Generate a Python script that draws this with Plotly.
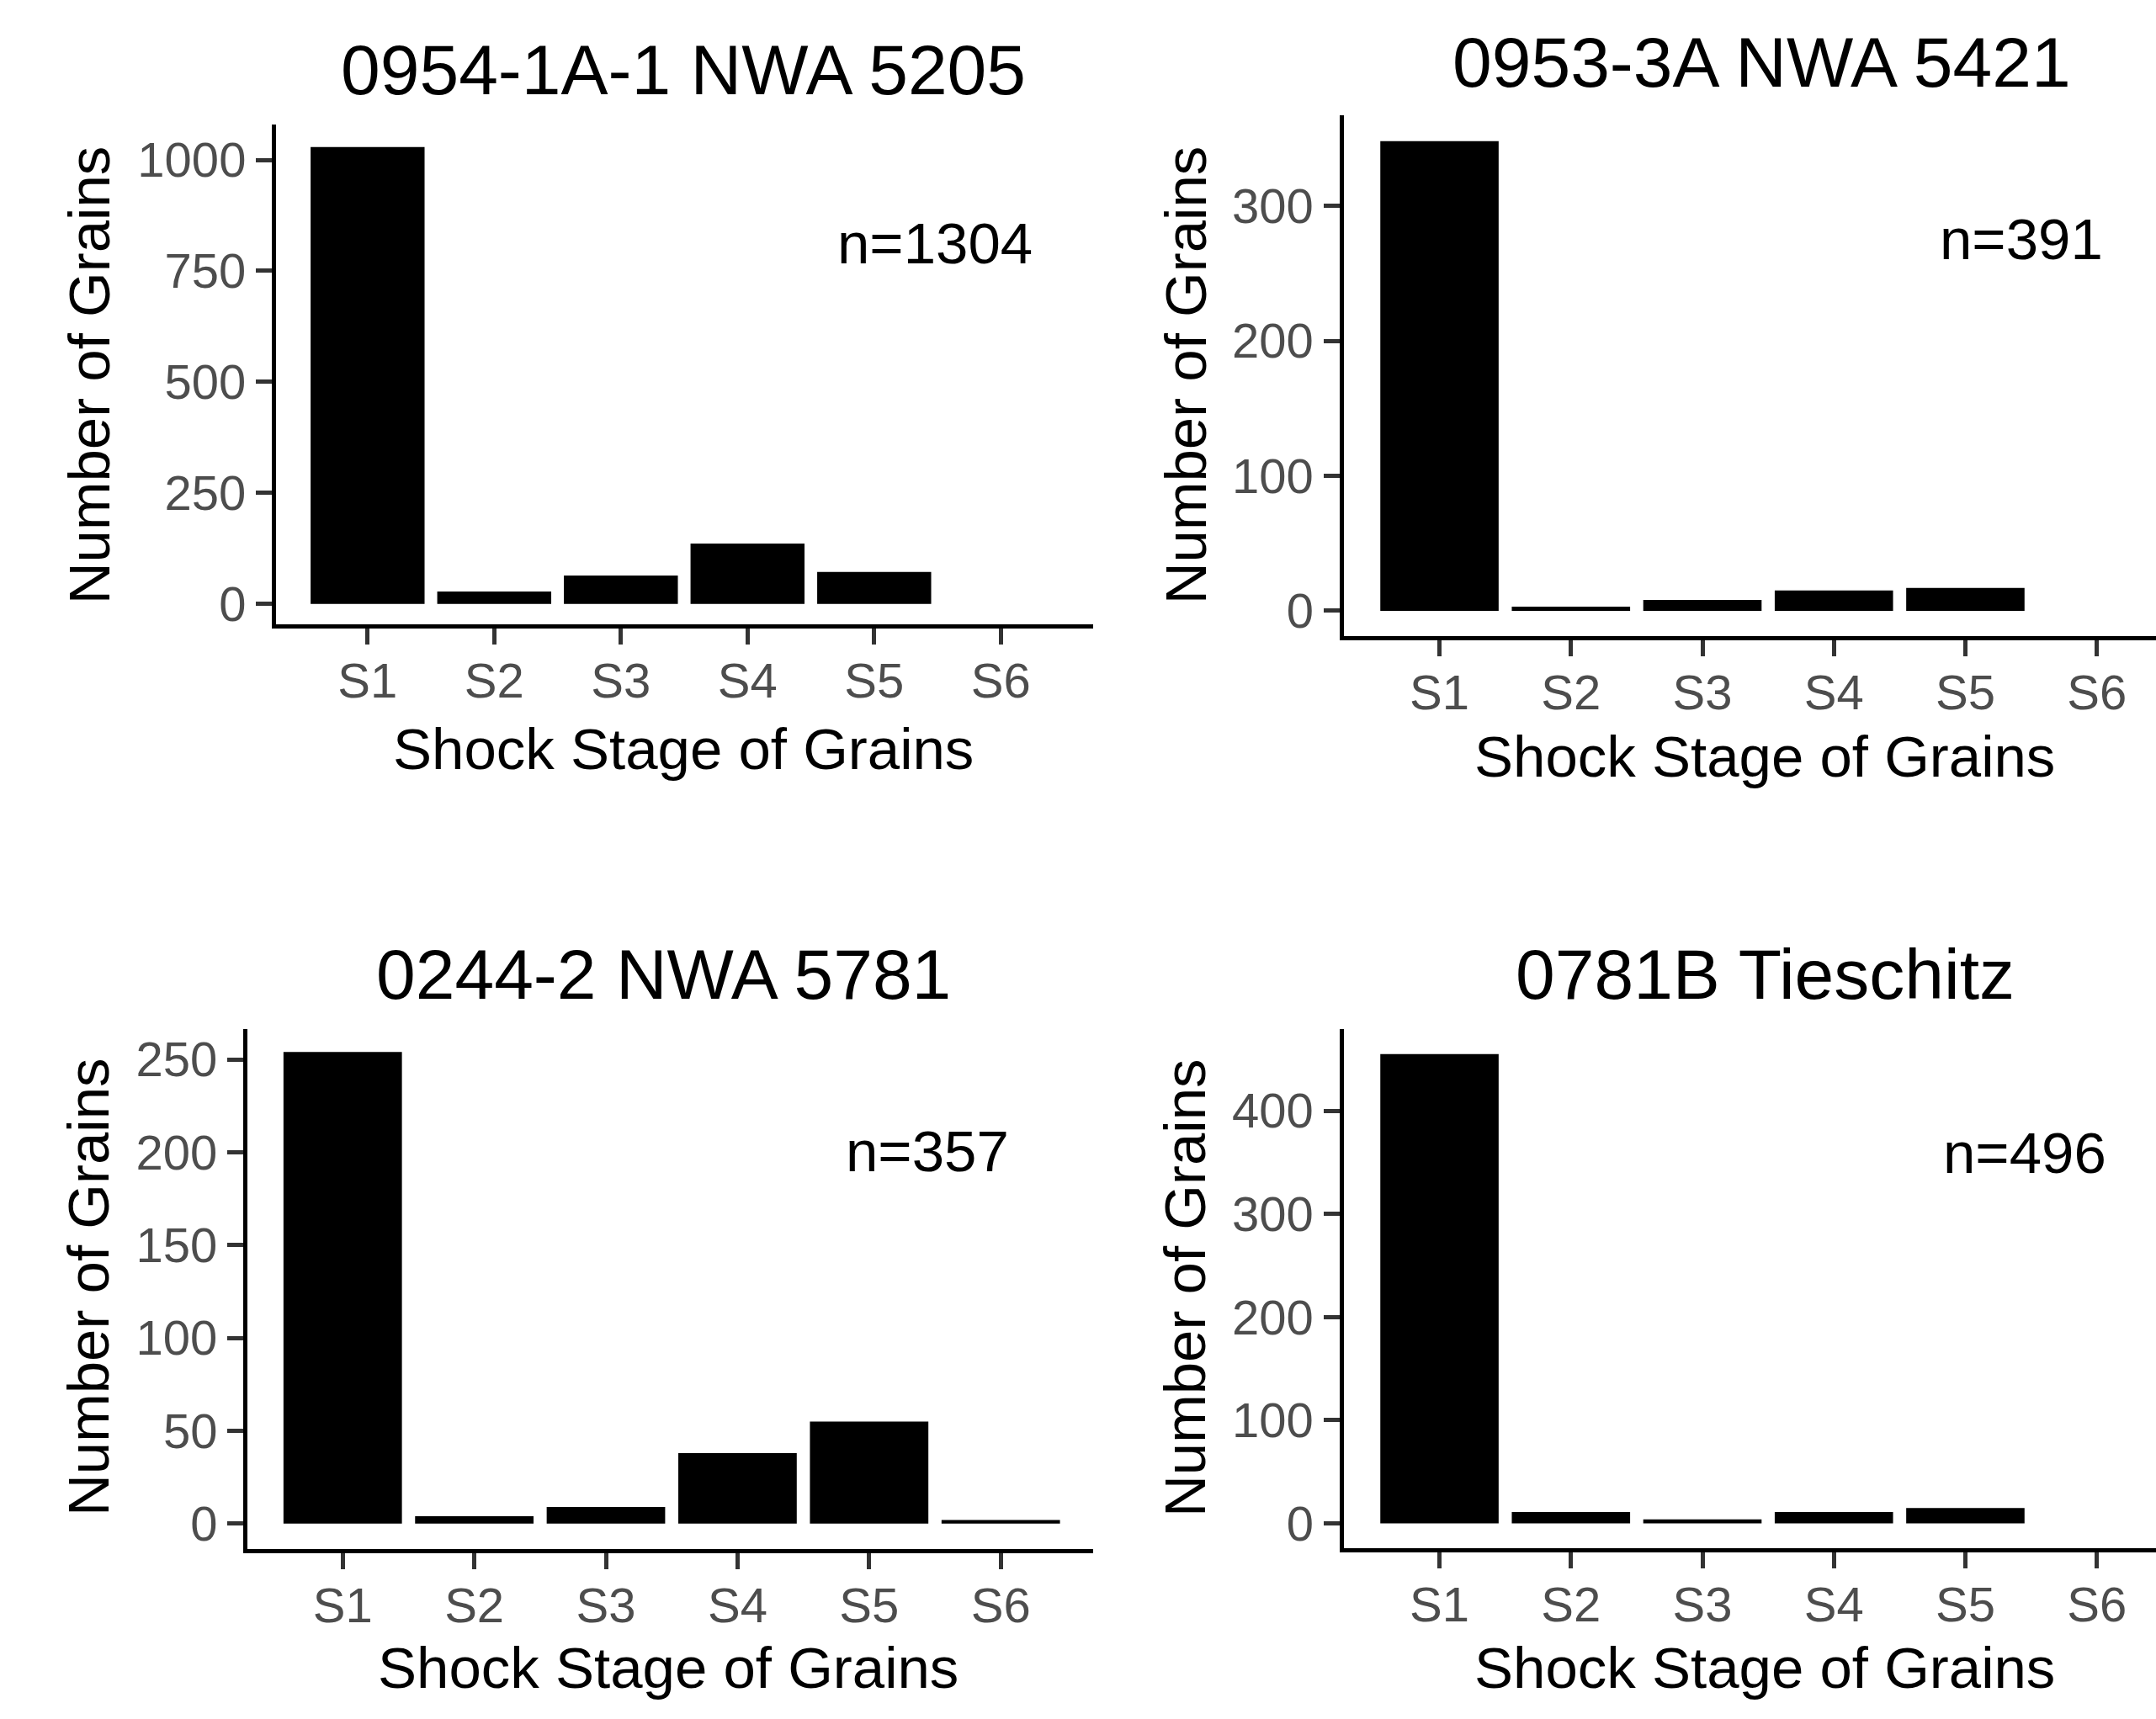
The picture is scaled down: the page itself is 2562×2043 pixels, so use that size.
import plotly.graph_objects as go

# Shock-stage counts for four meteorite thin sections
stages = ["S1", "S2", "S3", "S4", "S5", "S6"]

nwa5205_counts = [1029, 28, 64, 136, 72, 0]
nwa5421_counts = [348, 3, 8, 15, 17, 0]
nwa5781_counts = [254, 4, 9, 38, 55, 2]
tieschitz_counts = [455, 11, 4, 11, 15, 0]

panel_titles = ["0954-1A-1 NWA 5205", "0953-3A NWA 5421",
                "0244-2 NWA 5781", "0781B Tieschitz"]
n_labels = ["n=1304", "n=391", "n=357", "n=496"]
y_ticks = [[0, 250, 500, 750, 1000], [0, 100, 200, 300],
           [0, 50, 100, 150, 200, 250], [0, 100, 200, 300, 400]]

W, H = 2562, 2043
FONT = "Liberation Sans, Arial, sans-serif"


def px_x(p):
    return p / W


def px_y(p):
    return 1 - p / H


# plot-area boxes in pixels: left, right, top, bottom
boxes = [
    (328, 1299, 148.5, 745),
    (1596.5, 2562, 138, 759.2),
    (294, 1299, 1227.4, 1848.3),
    (1596.5, 2562, 1227.4, 1847.5),
]
x_ranges = [(-0.723, 5.729), (-0.730, 5.450), (-0.724, 5.702), (-0.730, 5.450)]
y_ranges = [(-46.3, 1079.9), (-18.9, 366.9), (-13.7, 266.5), (-24.2, 479.6)]

# text positions (pixel centres)
title_pos = [(812, 83), (2093, 74), (788, 1163), (2097, 1163)]
xtitle_pos = [(812, 894), (2097, 903), (794, 1990), (2097, 1990)]
ytitle_pos = [(106, 448), (1409, 448), (106, 1536), (1409, 1537)]
n_pos = [(1111, 291), (2402, 286), (1102, 1374), (2406, 1376)]

series = [nwa5205_counts, nwa5421_counts, nwa5781_counts, tieschitz_counts]

fig = go.Figure()
annotations = []
layout_axes = {}

for i, counts in enumerate(series):
    k = "" if i == 0 else str(i + 1)
    fig.add_trace(go.Bar(
        x=stages, y=counts, xaxis="x" + k, yaxis="y" + k,
        marker=dict(color="black", line=dict(width=0)),
        width=0.9, showlegend=False, hoverinfo="x+y",
    ))
    l, r, t, b = boxes[i]
    layout_axes["xaxis" + k] = dict(
        domain=[px_x(l), px_x(r)], anchor="y" + k,
        type="category", categoryorder="array", categoryarray=stages,
        range=list(x_ranges[i]),
        showline=True, linecolor="black", linewidth=5,
        ticks="outside", ticklen=19, tickwidth=4.5, tickcolor="#333333",
        tickfont=dict(family=FONT, size=58, color="#4D4D4D"),
        ticklabelstandoff=-7,
        showgrid=False, zeroline=False, fixedrange=True,
    )
    layout_axes["yaxis" + k] = dict(
        domain=[px_y(b), px_y(t)], anchor="x" + k,
        range=list(y_ranges[i]),
        tickmode="array", tickvals=y_ticks[i],
        showline=True, linecolor="black", linewidth=5,
        ticks="outside", ticklen=19, tickwidth=4.5, tickcolor="#333333",
        tickfont=dict(family=FONT, size=58, color="#4D4D4D"),
        ticklabelstandoff=0,
        showgrid=False, zeroline=False, fixedrange=True,
    )

    tx, ty = title_pos[i]
    annotations.append(dict(text=panel_titles[i], x=px_x(tx), y=px_y(ty),
                            xref="paper", yref="paper", showarrow=False,
                            xanchor="center", yanchor="middle",
                            font=dict(family=FONT, size=84, color="black")))
    ax, ay = xtitle_pos[i]
    annotations.append(dict(text="Shock Stage of Grains", x=px_x(ax), y=px_y(ay),
                            xref="paper", yref="paper", showarrow=False,
                            xanchor="center", yanchor="middle",
                            font=dict(family=FONT, size=69, color="black")))
    yx, yy = ytitle_pos[i]
    annotations.append(dict(text="Number of Grains", x=px_x(yx), y=px_y(yy),
                            xref="paper", yref="paper", showarrow=False,
                            textangle=-90, xanchor="center", yanchor="middle",
                            font=dict(family=FONT, size=69, color="black")))
    nx, ny = n_pos[i]
    annotations.append(dict(text=n_labels[i], x=px_x(nx), y=px_y(ny),
                            xref="paper", yref="paper", showarrow=False,
                            xanchor="center", yanchor="middle",
                            font=dict(family=FONT, size=69, color="black")))

fig.update_layout(
    width=W, height=H,
    margin=dict(l=0, r=0, t=0, b=0),
    paper_bgcolor="white", plot_bgcolor="white",
    bargap=0.1,
    annotations=annotations,
    **layout_axes,
)

fig.write_html("out.html", include_plotlyjs=True, config={"displayModeBar": False})
